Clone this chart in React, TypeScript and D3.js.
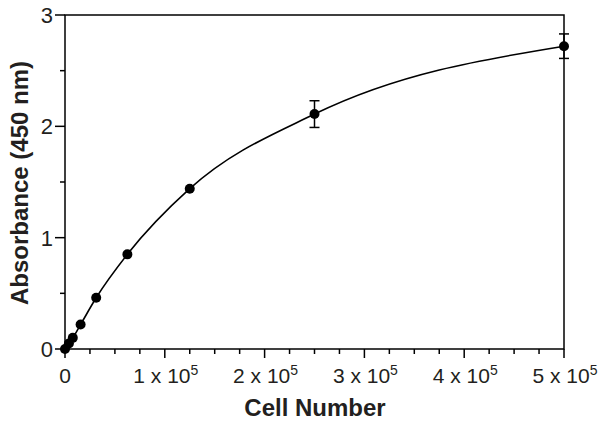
import React from "react";
import * as d3 from "d3";

const cellNumbers = [0, 3906, 7812, 15625, 31250, 62500, 125000, 250000, 500000];
const absorbance = [0.0, 0.05, 0.1, 0.22, 0.46, 0.85, 1.44, 2.11, 2.72];
const errors = [0, 0, 0, 0, 0, 0, 0, 0.12, 0.11];
const xMajorTicks = [0, 100000, 200000, 300000, 400000, 500000];
const xTickMantissa = ["0", "1", "2", "3", "4", "5"];
const yMajorTicks = [0, 1, 2, 3];

const W = 600, H = 422;
const left = 65, right = 564, top = 15, bottom = 349;

export default function App() {
  const x = d3.scaleLinear().domain([0, 500000]).range([left, right]);
  const y = d3.scaleLinear().domain([0, 3]).range([bottom, top]);
  const line = d3
    .line<number>()
    .x((_, i) => x(cellNumbers[i]))
    .y((d) => y(d))
    .curve(d3.curveMonotoneX);
  const xMinor = d3.range(0, 500001, 25000);
  const yMinor = d3.range(0, 3.01, 0.5);
  const txt = "#231f20";
  const font = "Arial, 'Liberation Sans', sans-serif";
  return (
    <svg width={W} height={H} style={{ position: "absolute", left: 0, top: 0 }} fontFamily={font}>
      <rect x={0} y={0} width={W} height={H} fill="#fff" />
      {/* frame */}
      <rect x={left} y={top} width={right - left} height={bottom - top} fill="none" stroke="#000" strokeWidth={1.5} />
      {/* y ticks */}
      {yMinor.map((t) => {
        const major = Math.abs(t - Math.round(t)) < 1e-6;
        return (
          <line key={"ym" + t} x1={left} x2={left - (major ? 10 : 5)} y1={y(t)} y2={y(t)} stroke="#000" strokeWidth={1.5} />
        );
      })}
      {yMajorTicks.map((t) => (
        <text key={"yl" + t} x={left - 12} y={y(t)} dy="0.36em" textAnchor="end" fontSize={22} fill={txt}>
          {t}
        </text>
      ))}
      {/* x ticks */}
      {xMinor.map((t) => {
        const major = t % 100000 === 0;
        return (
          <line key={"xm" + t} x1={x(t)} x2={x(t)} y1={bottom} y2={bottom + (major ? 9 : 5)} stroke="#000" strokeWidth={1.5} />
        );
      })}
      {xMajorTicks.map((t, i) =>
        t === 0 ? (
          <text key={"xl" + t} x={x(t)} y={383} textAnchor="middle" fontSize={21} fill={txt}>
            0
          </text>
        ) : (
          <text key={"xl" + t} x={x(t) + 1} y={383} textAnchor="middle" fontSize={21} fill={txt}>
            {xTickMantissa[i] + " x 10"}
            <tspan fontSize={14} dy={-8}>5</tspan>
          </text>
        )
      )}
      {/* curve */}
      <path d={line(absorbance) || ""} fill="none" stroke="#000" strokeWidth={1.6} />
      {/* error bars */}
      {absorbance.map((v, i) =>
        errors[i] > 0 ? (
          <g key={"e" + i} stroke="#000" strokeWidth={1.5}>
            <line x1={x(cellNumbers[i])} x2={x(cellNumbers[i])} y1={y(v - errors[i])} y2={y(v + errors[i])} />
            <line x1={x(cellNumbers[i]) - 5} x2={x(cellNumbers[i]) + 5} y1={y(v - errors[i])} y2={y(v - errors[i])} />
            <line x1={x(cellNumbers[i]) - 5} x2={x(cellNumbers[i]) + 5} y1={y(v + errors[i])} y2={y(v + errors[i])} />
          </g>
        ) : null
      )}
      {/* points */}
      {absorbance.map((v, i) => (
        <circle key={"p" + i} cx={x(cellNumbers[i])} cy={y(v)} r={5} fill="#000" />
      ))}
      {/* titles */}
      <text x={315} y={416} textAnchor="middle" fontSize={24} fontWeight="bold" fill={txt}>
        Cell Number
      </text>
      <text
        transform={`translate(28, 183) rotate(-90)`}
        textAnchor="middle"
        fontSize={24}
        fontWeight="bold"
        fill={txt}
      >
        Absorbance (450 nm)
      </text>
    </svg>
  );
}
